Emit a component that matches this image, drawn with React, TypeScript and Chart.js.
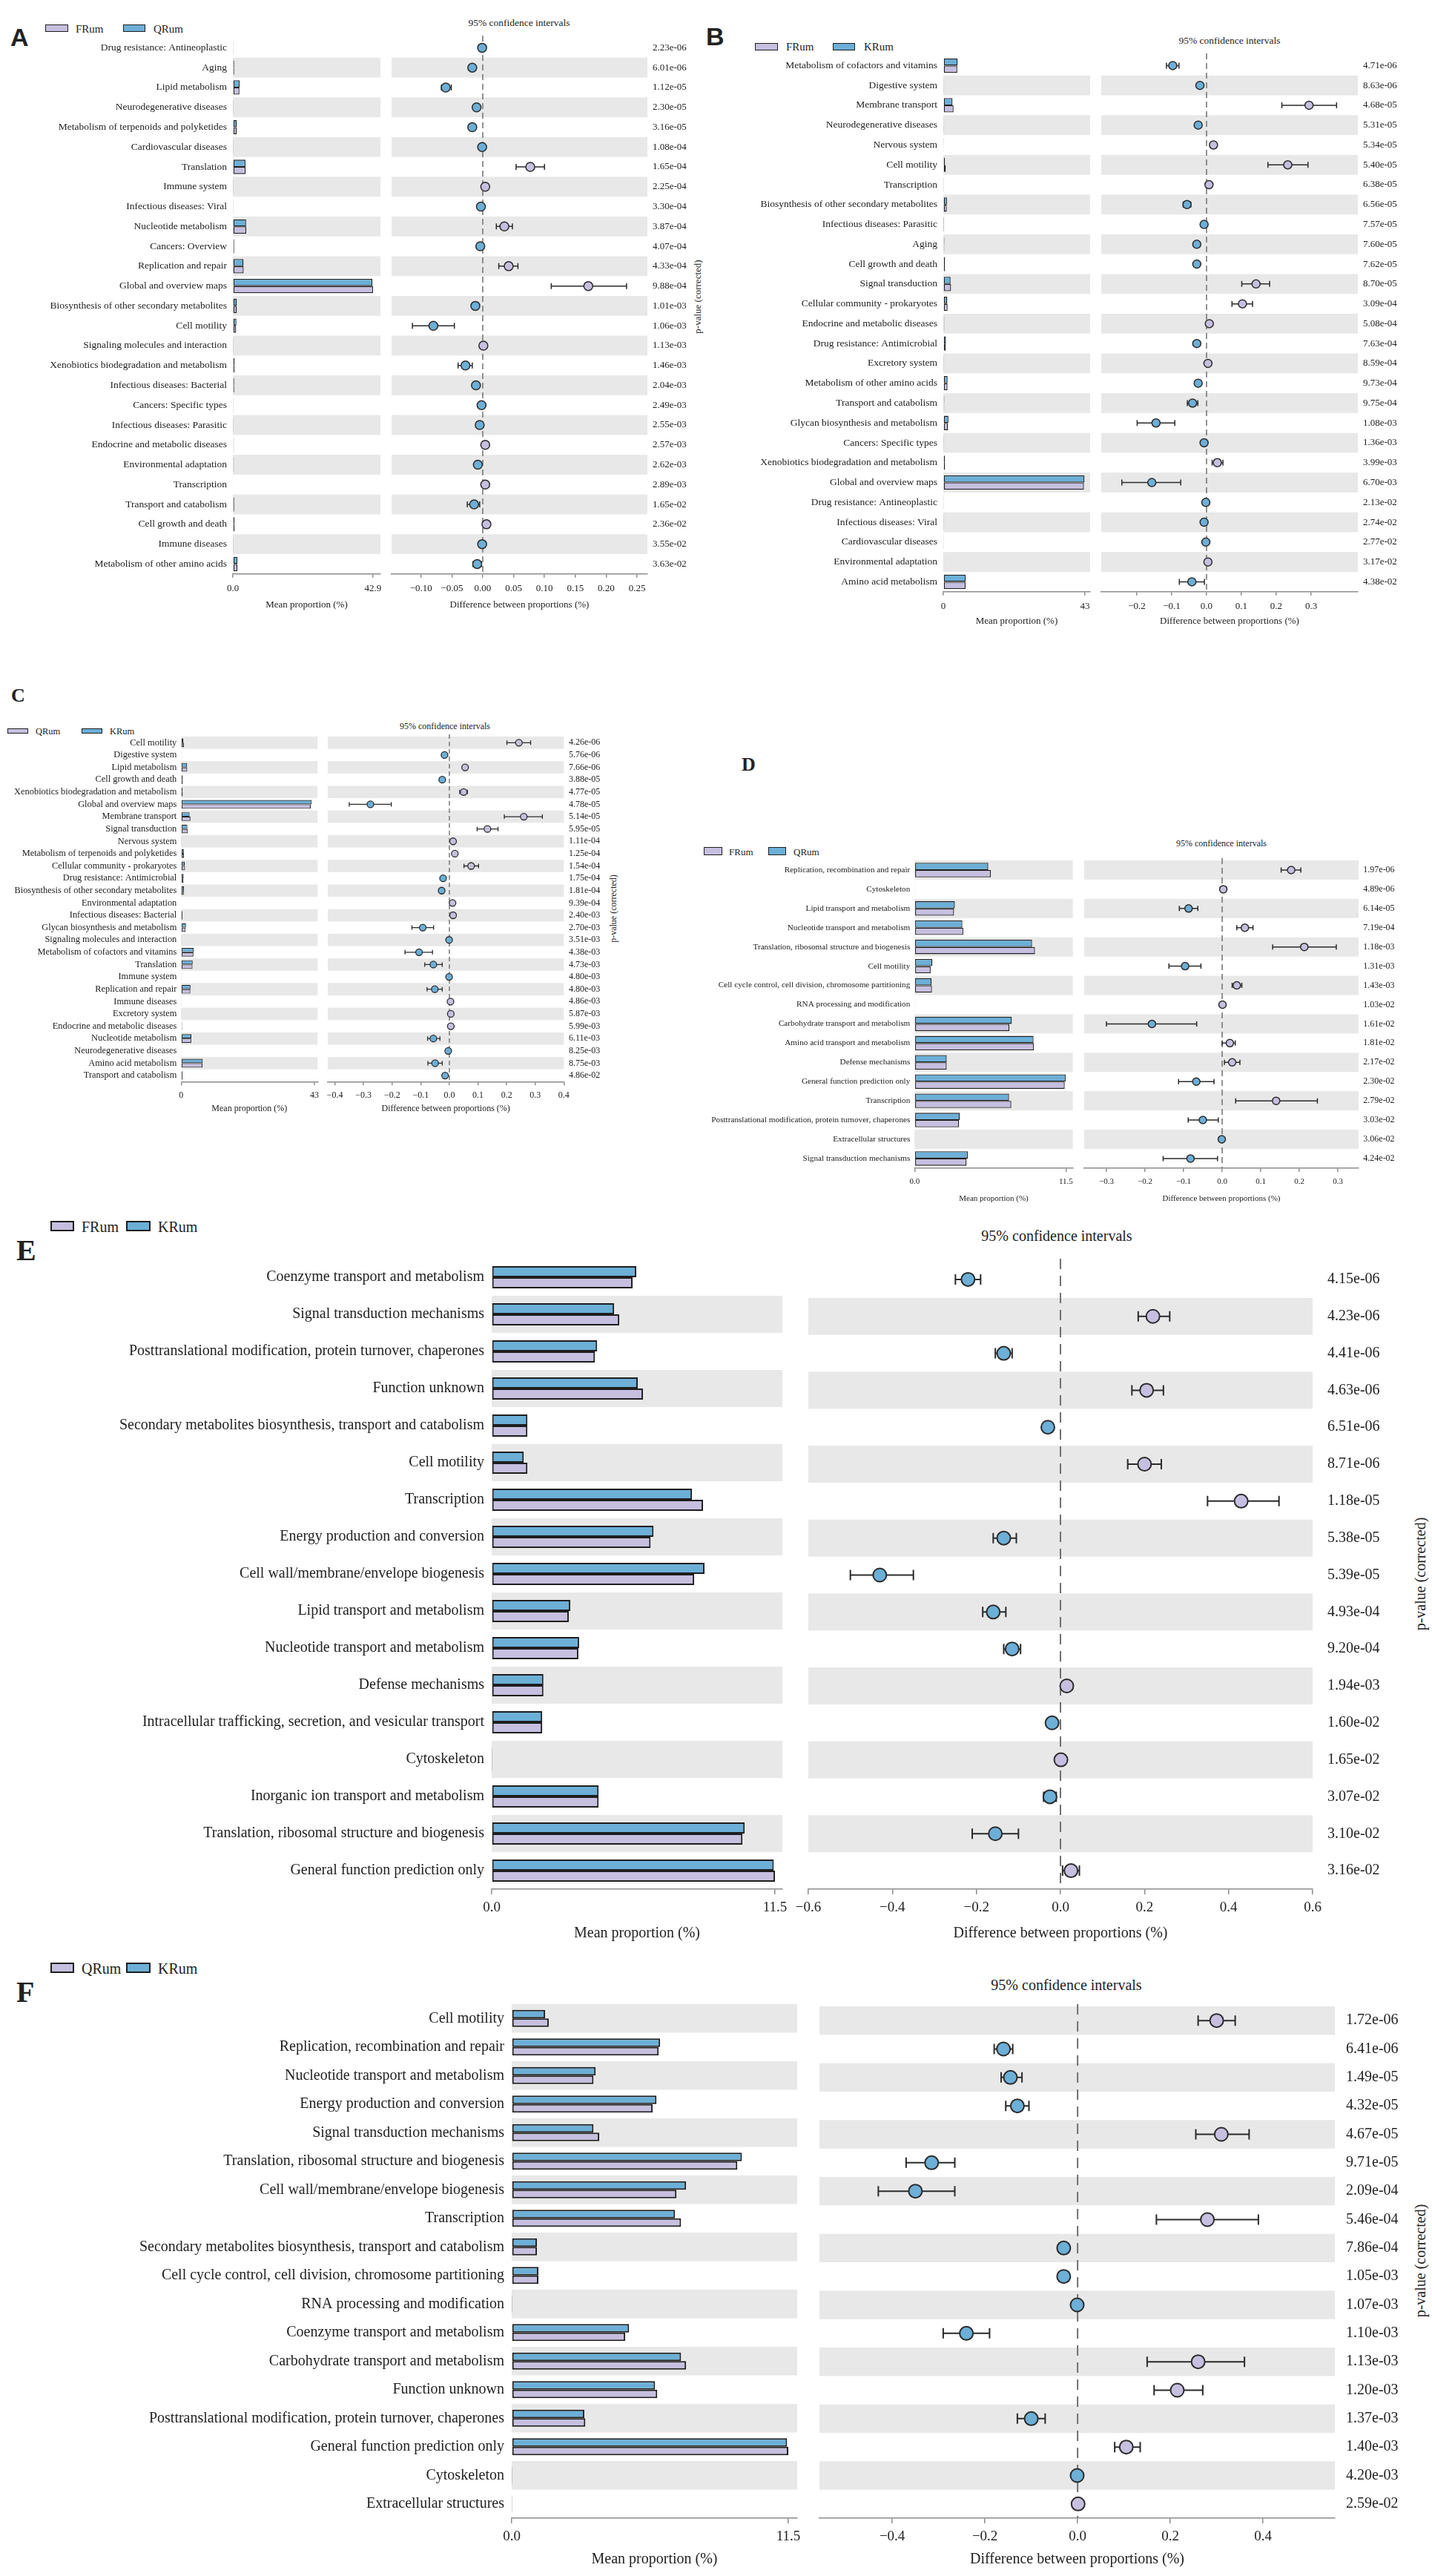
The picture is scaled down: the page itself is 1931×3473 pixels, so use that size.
import React, { useEffect, useRef } from 'react';
import { Chart, registerables } from 'chart.js';
Chart.register(...registerables);

const PURPLE = '#c7bfe0';
const BLUE = '#6cafd7';
const EDGE = '#1e1e1e';
const STRIPE = '#e8e8e8';
const AXIS = '#8c8c8c';
const TEXT = '#222222';
const DASH = '#707070';
const SERIF = '"Liberation Serif", "Times New Roman", serif';
const SANS = '"Liberation Sans", Arial, sans-serif';

// ---------------- Panel A (FRum vs QRum, KEGG) ----------------
const A_categories = ['Drug resistance: Antineoplastic', 'Aging', 'Lipid metabolism', 'Neurodegenerative diseases', 'Metabolism of terpenoids and polyketides', 'Cardiovascular diseases', 'Translation', 'Immune system', 'Infectious diseases: Viral', 'Nucleotide metabolism', 'Cancers: Overview', 'Replication and repair', 'Global and overview maps', 'Biosynthesis of other secondary metabolites', 'Cell motility', 'Signaling molecules and interaction', 'Xenobiotics biodegradation and metabolism', 'Infectious diseases: Bacterial', 'Cancers: Specific types', 'Infectious diseases: Parasitic', 'Endocrine and metabolic diseases', 'Environmental adaptation', 'Transcription', 'Transport and catabolism', 'Cell growth and death', 'Immune diseases', 'Metabolism of other amino acids'];
const A_FRum = [0.1, 0.4, 2.0, 0.1, 1.2, 0.1, 3.9, 0.1, 0.1, 4.1, 0.4, 3.3, 42.9, 1.2, 1.0, 0.1, 0.5, 0.4, 0.1, 0.1, 0.3, 0.3, 0.2, 0.4, 0.5, 0.1, 1.4];
const A_QRum = [0.1, 0.4, 2.05, 0.1, 1.2, 0.1, 3.85, 0.1, 0.1, 4.05, 0.4, 3.25, 42.73, 1.2, 1.08, 0.1, 0.52, 0.4, 0.1, 0.1, 0.3, 0.3, 0.2, 0.4, 0.5, 0.1, 1.4];
const A_diff = [-0.001, -0.017, -0.060, -0.010, -0.017, -0.001, 0.077, 0.004, -0.003, 0.035, -0.004, 0.042, 0.171, -0.012, -0.080, 0.001, -0.028, -0.011, -0.002, -0.005, 0.004, -0.008, 0.004, -0.014, 0.006, -0.001, -0.009];
const A_ciLow = [-0.003, -0.019, -0.067, -0.012, -0.019, -0.003, 0.054, 0.002, -0.005, 0.022, -0.006, 0.026, 0.111, -0.014, -0.114, -0.001, -0.040, -0.013, -0.004, -0.007, 0.002, -0.010, 0.002, -0.025, 0.004, -0.003, -0.016];
const A_ciHigh = [0.001, -0.015, -0.051, -0.008, -0.015, 0.001, 0.100, 0.006, -0.001, 0.048, -0.002, 0.057, 0.233, -0.010, -0.046, 0.003, -0.017, -0.009, 0.000, -0.003, 0.006, -0.006, 0.006, -0.005, 0.008, 0.001, -0.002];
const A_pvalues = ['2.23e-06', '6.01e-06', '1.12e-05', '2.30e-05', '3.16e-05', '1.08e-04', '1.65e-04', '2.25e-04', '3.30e-04', '3.87e-04', '4.07e-04', '4.33e-04', '9.88e-04', '1.01e-03', '1.06e-03', '1.13e-03', '1.46e-03', '2.04e-03', '2.49e-03', '2.55e-03', '2.57e-03', '2.62e-03', '2.89e-03', '1.65e-02', '2.36e-02', '3.55e-02', '3.63e-02'];
const A_barTicks = [0, 42.9];
const A_barTickLabels = ['0.0', '42.9'];
const A_diffTicks = [-0.10, -0.05, 0, 0.05, 0.10, 0.15, 0.20, 0.25];
const A_diffTickLabels = ['\u22120.10', '\u22120.05', '0.00', '0.05', '0.10', '0.15', '0.20', '0.25'];

// ---------------- Panel B (FRum vs KRum, KEGG) ----------------
const B_categories = ['Metabolism of cofactors and vitamins', 'Digestive system', 'Membrane transport', 'Neurodegenerative diseases', 'Nervous system', 'Cell motility', 'Transcription', 'Biosynthesis of other secondary metabolites', 'Infectious diseases: Parasitic', 'Aging', 'Cell growth and death', 'Signal transduction', 'Cellular community - prokaryotes', 'Endocrine and metabolic diseases', 'Drug resistance: Antimicrobial', 'Excretory system', 'Metabolism of other amino acids', 'Transport and catabolism', 'Glycan biosynthesis and metabolism', 'Cancers: Specific types', 'Xenobiotics biodegradation and metabolism', 'Global and overview maps', 'Drug resistance: Antineoplastic', 'Infectious diseases: Viral', 'Cardiovascular diseases', 'Environmental adaptation', 'Amino acid metabolism'];
const B_FRum = [4.25, 0.1, 3.1, 0.1, 0.12, 0.75, 0.1, 1.05, 0.05, 0.3, 0.5, 2.35, 1.3, 0.3, 0.78, 0.1, 1.28, 0.28, 1.4, 0.1, 0.52, 42.7, 0.1, 0.1, 0.1, 0.2, 6.75];
const B_KRum = [4.35, 0.12, 2.8, 0.12, 0.1, 0.5, 0.1, 1.1, 0.05, 0.33, 0.53, 2.2, 1.2, 0.3, 0.81, 0.1, 1.3, 0.32, 1.55, 0.1, 0.5, 42.87, 0.1, 0.1, 0.1, 0.2, 6.8];
const B_diff = [-0.097, -0.019, 0.294, -0.024, 0.020, 0.233, 0.007, -0.056, -0.007, -0.028, -0.028, 0.142, 0.103, 0.008, -0.028, 0.004, -0.024, -0.040, -0.145, -0.007, 0.031, -0.157, -0.002, -0.007, -0.002, 0.004, -0.042];
const B_ciLow = [-0.115, -0.022, 0.216, -0.027, 0.017, 0.176, 0.004, -0.067, -0.010, -0.031, -0.031, 0.101, 0.073, 0.005, -0.031, 0.001, -0.027, -0.055, -0.199, -0.010, 0.016, -0.243, -0.005, -0.010, -0.005, 0.001, -0.078];
const B_ciHigh = [-0.079, -0.016, 0.373, -0.021, 0.023, 0.291, 0.010, -0.045, -0.004, -0.025, -0.025, 0.181, 0.132, 0.011, -0.025, 0.007, -0.021, -0.025, -0.091, -0.004, 0.047, -0.074, 0.001, -0.004, 0.001, 0.007, -0.006];
const B_pvalues = ['4.71e-06', '8.63e-06', '4.68e-05', '5.31e-05', '5.34e-05', '5.40e-05', '6.38e-05', '6.56e-05', '7.57e-05', '7.60e-05', '7.62e-05', '8.70e-05', '3.09e-04', '5.08e-04', '7.63e-04', '8.59e-04', '9.73e-04', '9.75e-04', '1.08e-03', '1.36e-03', '3.99e-03', '6.70e-03', '2.13e-02', '2.74e-02', '2.77e-02', '3.17e-02', '4.38e-02'];
const B_barTicks = [0, 43];
const B_barTickLabels = ['0', '43'];
const B_diffTicks = [-0.2, -0.1, 0, 0.1, 0.2, 0.3];
const B_diffTickLabels = ['\u22120.2', '\u22120.1', '0.0', '0.1', '0.2', '0.3'];

// ---------------- Panel C (QRum vs KRum, KEGG) ----------------
const C_categories = ['Cell motility', 'Digestive system', 'Lipid metabolism', 'Cell growth and death', 'Xenobiotics biodegradation and metabolism', 'Global and overview maps', 'Membrane transport', 'Signal transduction', 'Nervous system', 'Metabolism of terpenoids and polyketides', 'Cellular community - prokaryotes', 'Drug resistance: Antimicrobial', 'Biosynthesis of other secondary metabolites', 'Environmental adaptation', 'Infectious diseases: Bacterial', 'Glycan biosynthesis and metabolism', 'Signaling molecules and interaction', 'Metabolism of cofactors and vitamins', 'Translation', 'Immune system', 'Replication and repair', 'Immune diseases', 'Excretory system', 'Endocrine and metabolic diseases', 'Nucleotide metabolism', 'Neurodegenerative diseases', 'Amino acid metabolism', 'Transport and catabolism'];
const C_QRum = [0.9, 0.1, 1.95, 0.5, 0.5, 41.8, 3.0, 2.15, 0.1, 0.9, 1.25, 0.75, 0.85, 0.2, 0.4, 1.45, 0.1, 3.95, 3.65, 0.1, 2.95, 0.1, 0.1, 0.3, 3.25, 0.1, 6.9, 0.4];
const C_KRum = [0.7, 0.1, 1.9, 0.5, 0.45, 42.1, 2.7, 2.0, 0.1, 0.85, 1.15, 0.8, 0.9, 0.2, 0.4, 1.55, 0.1, 4.05, 3.7, 0.1, 3.0, 0.1, 0.1, 0.3, 3.3, 0.1, 6.95, 0.4];
const C_diff = [0.243, -0.017, 0.055, -0.025, 0.050, -0.276, 0.260, 0.133, 0.013, 0.019, 0.076, -0.022, -0.027, 0.011, 0.013, -0.093, -0.001, -0.106, -0.056, -0.001, -0.051, 0.004, 0.005, 0.005, -0.056, -0.004, -0.050, -0.015];
const C_ciLow = [0.201, -0.020, 0.047, -0.028, 0.036, -0.350, 0.192, 0.097, 0.010, 0.016, 0.051, -0.025, -0.030, 0.008, 0.010, -0.131, -0.004, -0.155, -0.086, -0.004, -0.078, 0.001, 0.002, 0.002, -0.076, -0.007, -0.075, -0.018];
const C_ciHigh = [0.284, -0.014, 0.063, -0.022, 0.063, -0.203, 0.325, 0.170, 0.016, 0.022, 0.102, -0.019, -0.024, 0.014, 0.016, -0.055, 0.002, -0.059, -0.025, 0.002, -0.025, 0.007, 0.008, 0.008, -0.033, -0.001, -0.025, -0.012];
const C_pvalues = ['4.26e-06', '5.76e-06', '7.66e-06', '3.88e-05', '4.77e-05', '4.78e-05', '5.14e-05', '5.95e-05', '1.11e-04', '1.25e-04', '1.54e-04', '1.75e-04', '1.81e-04', '9.39e-04', '2.40e-03', '2.70e-03', '3.51e-03', '4.38e-03', '4.73e-03', '4.80e-03', '4.80e-03', '4.86e-03', '5.87e-03', '5.99e-03', '6.11e-03', '8.25e-03', '8.75e-03', '4.86e-02'];
const C_barTicks = [0, 43];
const C_barTickLabels = ['0', '43'];
const C_diffTicks = [-0.4, -0.3, -0.2, -0.1, 0, 0.1, 0.2, 0.3, 0.4];
const C_diffTickLabels = ['\u22120.4', '\u22120.3', '\u22120.2', '\u22120.1', '0.0', '0.1', '0.2', '0.3', '0.4'];

// ---------------- Panel D (FRum vs QRum, COG) ----------------
const D_categories = ['Replication, recombination and repair', 'Cytoskeleton', 'Lipid transport and metabolism', 'Nucleotide transport and metabolism', 'Translation, ribosomal structure and biogenesis', 'Cell motility', 'Cell cycle control, cell division, chromosome partitioning', 'RNA processing and modification', 'Carbohydrate transport and metabolism', 'Amino acid transport and metabolism', 'Defense mechanisms', 'General function prediction only', 'Transcription', 'Posttranslational modification, protein turnover, chaperones', 'Extracellular structures', 'Signal transduction mechanisms'];
const D_FRum = [5.8, 0.03, 3.0, 3.7, 9.15, 1.22, 1.32, 0.03, 7.2, 9.08, 2.44, 11.41, 7.35, 3.38, 0.03, 3.95];
const D_QRum = [5.6, 0.03, 3.06, 3.63, 8.93, 1.35, 1.28, 0.03, 7.39, 9.04, 2.44, 11.48, 7.18, 3.44, 0.03, 4.04];
const D_diff = [0.179, 0.003, -0.087, 0.059, 0.213, -0.096, 0.038, 0.001, -0.182, 0.020, 0.026, -0.067, 0.140, -0.050, -0.001, -0.082];
const D_ciLow = [0.153, 0.001, -0.111, 0.038, 0.131, -0.138, 0.026, -0.001, -0.300, 0.000, 0.006, -0.113, 0.035, -0.088, -0.003, -0.153];
const D_ciHigh = [0.204, 0.005, -0.063, 0.080, 0.296, -0.055, 0.051, 0.003, -0.066, 0.034, 0.046, -0.021, 0.247, -0.010, 0.001, -0.012];
const D_pvalues = ['1.97e-06', '4.89e-06', '6.14e-05', '7.19e-04', '1.18e-03', '1.31e-03', '1.43e-03', '1.03e-02', '1.61e-02', '1.81e-02', '2.17e-02', '2.30e-02', '2.79e-02', '3.03e-02', '3.06e-02', '4.24e-02'];
const D_barTicks = [0, 11.5];
const D_barTickLabels = ['0.0', '11.5'];
const D_diffTicks = [-0.3, -0.2, -0.1, 0, 0.1, 0.2, 0.3];
const D_diffTickLabels = ['\u22120.3', '\u22120.2', '\u22120.1', '0.0', '0.1', '0.2', '0.3'];

// ---------------- Panel E (FRum vs KRum, COG) ----------------
const E_categories = ['Coenzyme transport and metabolism', 'Signal transduction mechanisms', 'Posttranslational modification, protein turnover, chaperones', 'Function unknown', 'Secondary metabolites biosynthesis, transport and catabolism', 'Cell motility', 'Transcription', 'Energy production and conversion', 'Cell wall/membrane/envelope biogenesis', 'Lipid transport and metabolism', 'Nucleotide transport and metabolism', 'Defense mechanisms', 'Intracellular trafficking, secretion, and vesicular transport', 'Cytoskeleton', 'Inorganic ion transport and metabolism', 'Translation, ribosomal structure and biogenesis', 'General function prediction only'];
const E_FRum = [5.72, 5.18, 4.19, 6.14, 1.45, 1.45, 8.58, 6.45, 8.22, 3.13, 3.52, 2.1, 2.05, 0.01, 4.34, 10.18, 11.5];
const E_KRum = [5.87, 4.97, 4.28, 5.93, 1.45, 1.3, 8.13, 6.57, 8.64, 3.19, 3.55, 2.1, 2.05, 0.01, 4.34, 10.27, 11.45];
const E_diff = [-0.22, 0.22, -0.135, 0.205, -0.03, 0.20, 0.43, -0.135, -0.43, -0.16, -0.115, 0.015, -0.02, 0.001, -0.025, -0.155, 0.025];
const E_ciLow = [-0.25, 0.185, -0.155, 0.17, -0.035, 0.16, 0.35, -0.16, -0.50, -0.185, -0.135, 0.005, -0.03, -0.001, -0.04, -0.21, 0.005];
const E_ciHigh = [-0.19, 0.26, -0.115, 0.245, -0.025, 0.24, 0.52, -0.105, -0.35, -0.13, -0.095, 0.025, -0.01, 0.003, -0.01, -0.10, 0.045];
const E_pvalues = ['4.15e-06', '4.23e-06', '4.41e-06', '4.63e-06', '6.51e-06', '8.71e-06', '1.18e-05', '5.38e-05', '5.39e-05', '4.93e-04', '9.20e-04', '1.94e-03', '1.60e-02', '1.65e-02', '3.07e-02', '3.10e-02', '3.16e-02'];
const E_barTicks = [0, 11.5];
const E_barTickLabels = ['0.0', '11.5'];
const E_diffTicks = [-0.6, -0.4, -0.2, 0, 0.2, 0.4, 0.6];
const E_diffTickLabels = ['\u22120.6', '\u22120.4', '\u22120.2', '0.0', '0.2', '0.4', '0.6'];

// ---------------- Panel F (QRum vs KRum, COG) ----------------
const F_categories = ['Cell motility', 'Replication, recombination and repair', 'Nucleotide transport and metabolism', 'Energy production and conversion', 'Signal transduction mechanisms', 'Translation, ribosomal structure and biogenesis', 'Cell wall/membrane/envelope biogenesis', 'Transcription', 'Secondary metabolites biosynthesis, transport and catabolism', 'Cell cycle control, cell division, chromosome partitioning', 'RNA processing and modification', 'Coenzyme transport and metabolism', 'Carbohydrate transport and metabolism', 'Function unknown', 'Posttranslational modification, protein turnover, chaperones', 'General function prediction only', 'Cytoskeleton', 'Extracellular structures'];
const F_QRum = [1.54, 6.11, 3.40, 5.86, 3.64, 9.38, 6.85, 7.04, 1.05, 1.11, 0.01, 4.72, 7.25, 6.05, 3.06, 11.5, 0.01, 0.01];
const F_KRum = [1.39, 6.17, 3.49, 6.02, 3.40, 9.57, 7.25, 6.79, 1.05, 1.11, 0.01, 4.88, 7.04, 5.96, 3.02, 11.45, 0.01, 0.01];
const F_diff = [0.30, -0.16, -0.145, -0.13, 0.31, -0.315, -0.35, 0.28, -0.03, -0.03, -0.001, -0.24, 0.26, 0.215, -0.10, 0.105, -0.001, 0.001];
const F_ciLow = [0.26, -0.18, -0.165, -0.155, 0.255, -0.37, -0.43, 0.17, -0.04, -0.04, -0.003, -0.29, 0.15, 0.165, -0.13, 0.08, -0.003, -0.001];
const F_ciHigh = [0.34, -0.14, -0.12, -0.105, 0.37, -0.265, -0.265, 0.39, -0.02, -0.02, 0.001, -0.19, 0.36, 0.27, -0.07, 0.135, 0.001, 0.003];
const F_pvalues = ['1.72e-06', '6.41e-06', '1.49e-05', '4.32e-05', '4.67e-05', '9.71e-05', '2.09e-04', '5.46e-04', '7.86e-04', '1.05e-03', '1.07e-03', '1.10e-03', '1.13e-03', '1.20e-03', '1.37e-03', '1.40e-03', '4.20e-03', '2.59e-02'];
const F_barTicks = [0, 11.5];
const F_barTickLabels = ['0.0', '11.5'];
const F_diffTicks = [-0.4, -0.2, 0, 0.2, 0.4];
const F_diffTickLabels = ['\u22120.4', '\u22120.2', '0.0', '0.2', '0.4'];

// ---------------- layout (positions / sizes / styles) ----------------
type Geo = {
  top: number; rowH: number; labelLeft: number; barL: number; barR: number; barMax: number;
  dotL: number; dotR: number; dotMin: number; dotMax: number; pvalPad: number; pvalW: number;
  catFont: number; tickFont: number; titleFont: number; pvalFont: number;
  xH: number; tickLen: number; tickPad: number; catPct: number; barBorder: number;
  r: number; cap: number; ebWidth: number; dash: number[]; dashWidth: number; parity: number; catPad: number;
};
type Spec = {
  letter: { t: string; x: number; base: number; size: number; sans: boolean };
  legend: { y: number; h: number; size: number; base: number; items: { x: number; w: number; tx: number; label: string; color: string }[] };
  ci: { cx: number; base: number; size: number };
  pv?: { cx: number; cy: number; size: number };
  g1: string; g2: string;
  cats: string[]; v1: number[]; v2: number[]; diff: number[]; lo: number[]; hi: number[]; pvals: string[];
  barTicks: number[]; barTickLabels: string[]; diffTicks: number[]; diffTickLabels: string[];
  geo: Geo;
};

const baseGeo = { tickLen: 5, barBorder: 1.3, ebWidth: 1.5, dashWidth: 1.5, catPad: 8 };

const SPECS: Spec[] = [
  {
    letter: { t: 'A', x: 14, base: 62, size: 34, sans: true },
    legend: { y: 33.3, h: 10, size: 15, base: 44.5, items: [{ x: 61, w: 31, tx: 102, label: 'FRum', color: PURPLE }, { x: 166, w: 30, tx: 207, label: 'QRum', color: BLUE }] },
    ci: { cx: 700, base: 35, size: 13.5 }, pv: { cx: 940, cy: 400, size: 13 },
    g1: 'FRum', g2: 'QRum', cats: A_categories, v1: A_FRum, v2: A_QRum, diff: A_diff, lo: A_ciLow, hi: A_ciHigh, pvals: A_pvalues,
    barTicks: A_barTicks, barTickLabels: A_barTickLabels, diffTicks: A_diffTicks, diffTickLabels: A_diffTickLabels,
    geo: { ...baseGeo, top: 50.6, rowH: 26.77, labelLeft: 30, barL: 314, barR: 513, barMax: 45.17, dotL: 528, dotR: 873, dotMin: -0.1478, dotMax: 0.2668, pvalPad: 7, pvalW: 62,
      catFont: 13.5, tickFont: 13, titleFont: 13, pvalFont: 13, xH: 50, tickPad: 7, catPct: 0.72, r: 6, cap: 8, dash: [8, 5], parity: 1 },
  },
  {
    letter: { t: 'B', x: 952, base: 61, size: 34, sans: true },
    legend: { y: 57.7, h: 10.6, size: 15, base: 69, items: [{ x: 1018, w: 31, tx: 1060, label: 'FRum', color: PURPLE }, { x: 1123, w: 30, tx: 1165, label: 'KRum', color: BLUE }] },
    ci: { cx: 1658, base: 59, size: 13.5 },
    g1: 'FRum', g2: 'KRum', cats: B_categories, v1: B_FRum, v2: B_KRum, diff: B_diff, lo: B_ciLow, hi: B_ciHigh, pvals: B_pvalues,
    barTicks: B_barTicks, barTickLabels: B_barTickLabels, diffTicks: B_diffTicks, diffTickLabels: B_diffTickLabels,
    geo: { ...baseGeo, top: 74.9, rowH: 26.77, labelLeft: 990, barL: 1272, barR: 1470, barMax: 44.58, dotL: 1485, dotR: 1831, dotMin: -0.302, dotMax: 0.434, pvalPad: 7, pvalW: 62,
      catFont: 13.5, tickFont: 13, titleFont: 13, pvalFont: 13, xH: 48, tickPad: 7, catPct: 0.72, r: 5.5, cap: 8, dash: [8, 5], parity: 1 },
  },
  {
    letter: { t: 'C', x: 15, base: 947, size: 26, sans: false },
    legend: { y: 981.7, h: 7.5, size: 12.5, base: 990, items: [{ x: 10, w: 28, tx: 48, label: 'QRum', color: PURPLE }, { x: 110, w: 28, tx: 148, label: 'KRum', color: BLUE }] },
    ci: { cx: 600, base: 983, size: 12 }, pv: { cx: 827, cy: 1225, size: 12 },
    g1: 'QRum', g2: 'KRum', cats: C_categories, v1: C_QRum, v2: C_KRum, diff: C_diff, lo: C_ciLow, hi: C_ciHigh, pvals: C_pvalues,
    barTicks: C_barTicks, barTickLabels: C_barTickLabels, diffTicks: C_diffTicks, diffTickLabels: C_diffTickLabels,
    geo: { ...baseGeo, top: 992.7, rowH: 16.62, labelLeft: 0, barL: 244.3, barR: 428.3, barMax: 44.0, dotL: 441.7, dotR: 760, dotMin: -0.425, dotMax: 0.4, pvalPad: 6.7, pvalW: 56,
      catFont: 12.4, tickFont: 12, titleFont: 12, pvalFont: 12, xH: 44, tickPad: 6, catPct: 0.7, r: 4.5, cap: 6, dash: [6, 4], parity: 0, barBorder: 1.1, ebWidth: 1.3, dashWidth: 1.4, catPad: 6 },
  },
  {
    letter: { t: 'D', x: 1000, base: 1040, size: 26, sans: false },
    legend: { y: 1142, h: 11, size: 13, base: 1153, items: [{ x: 949, w: 25, tx: 983, label: 'FRum', color: PURPLE }, { x: 1036, w: 24, tx: 1070, label: 'QRum', color: BLUE }] },
    ci: { cx: 1647, base: 1141, size: 12 },
    g1: 'FRum', g2: 'QRum', cats: D_categories, v1: D_FRum, v2: D_QRum, diff: D_diff, lo: D_ciLow, hi: D_ciHigh, pvals: D_pvalues,
    barTicks: D_barTicks, barTickLabels: D_barTickLabels, diffTicks: D_diffTicks, diffTickLabels: D_diffTickLabels,
    geo: { ...baseGeo, top: 1160.4, rowH: 25.93, labelLeft: 935, barL: 1233.3, barR: 1446.7, barMax: 12.03, dotL: 1461.7, dotR: 1831.7, dotMin: -0.3577, dotMax: 0.3538, pvalPad: 6.3, pvalW: 60,
      catFont: 11.2, tickFont: 11, titleFont: 11, pvalFont: 12, xH: 48, tickPad: 7, catPct: 0.75, r: 5, cap: 7, dash: [8, 5], parity: 0, catPad: 6 },
  },
  {
    letter: { t: 'E', x: 22, base: 1700, size: 40, sans: false },
    legend: { y: 1646, h: 14, size: 20, base: 1661, items: [{ x: 68, w: 32, tx: 110, label: 'FRum', color: PURPLE }, { x: 170, w: 33, tx: 213, label: 'KRum', color: BLUE }] },
    ci: { cx: 1425, base: 1673, size: 20 }, pv: { cx: 1915, cy: 2122, size: 20 },
    g1: 'FRum', g2: 'KRum', cats: E_categories, v1: E_FRum, v2: E_KRum, diff: E_diff, lo: E_ciLow, hi: E_ciHigh, pvals: E_pvalues,
    barTicks: E_barTicks, barTickLabels: E_barTickLabels, diffTicks: E_diffTicks, diffTickLabels: E_diffTickLabels,
    geo: { ...baseGeo, top: 1697, rowH: 50, labelLeft: 40, barL: 663, barR: 1055, barMax: 11.8, dotL: 1090, dotR: 1770, dotMin: -0.6, dotMax: 0.6, pvalPad: 20, pvalW: 110,
      catFont: 20, tickFont: 19, titleFont: 20, pvalFont: 20, xH: 72, tickPad: 7, catPct: 0.6, r: 9, cap: 14, dash: [14, 9], parity: 1, barBorder: 2, ebWidth: 2, dashWidth: 2, catPad: 10, tickLen: 7 },
  },
  {
    letter: { t: 'F', x: 22, base: 2700, size: 40, sans: false },
    legend: { y: 2646, h: 14, size: 20, base: 2661, items: [{ x: 68, w: 32, tx: 110, label: 'QRum', color: PURPLE }, { x: 170, w: 33, tx: 213, label: 'KRum', color: BLUE }] },
    ci: { cx: 1438, base: 2683, size: 20 }, pv: { cx: 1915, cy: 3048, size: 20 },
    g1: 'QRum', g2: 'KRum', cats: F_categories, v1: F_QRum, v2: F_KRum, diff: F_diff, lo: F_ciLow, hi: F_ciHigh, pvals: F_pvalues,
    barTicks: F_barTicks, barTickLabels: F_barTickLabels, diffTicks: F_diffTicks, diffTickLabels: F_diffTickLabels,
    geo: { ...baseGeo, top: 2701.8, rowH: 38.5, labelLeft: 40, barL: 690, barR: 1075, barMax: 11.87, dotL: 1105, dotR: 1800, dotMin: -0.557, dotMax: 0.555, pvalPad: 15, pvalW: 110,
      catFont: 20, tickFont: 19, titleFont: 20, pvalFont: 20, xH: 68, tickPad: 7, catPct: 0.6, r: 9, cap: 14, dash: [14, 9], parity: 0, barBorder: 2, ebWidth: 2, dashWidth: 2, catPad: 10, tickLen: 7 },
  },
];

const font = (size: number) => ({ family: SERIF, size, weight: 'normal' as const });

function stripesPlugin(parity: number) {
  return {
    id: 'stripes',
    beforeDraw(chart: any) {
      const { ctx, chartArea: a, scales } = chart;
      const y = scales.y;
      const n = y.getLabels().length;
      const h = (a.bottom - a.top) / n;
      ctx.save();
      ctx.fillStyle = STRIPE;
      for (let i = 0; i < n; i++) {
        if (i % 2 !== parity) continue;
        const c = y.getPixelForValue(i);
        ctx.fillRect(a.left, c - h / 2, a.right - a.left, h);
      }
      ctx.restore();
    },
  };
}

function decoPlugin(lo: number[], hi: number[], g: Geo) {
  return {
    id: 'deco',
    beforeDatasetsDraw(chart: any) {
      const { ctx, chartArea: a, scales } = chart;
      const x = scales.x, y = scales.y;
      const x0 = x.getPixelForValue(0);
      ctx.save();
      ctx.strokeStyle = DASH;
      ctx.lineWidth = g.dashWidth;
      ctx.setLineDash(g.dash);
      ctx.beginPath();
      ctx.moveTo(x0, a.top - 3);
      ctx.lineTo(x0, a.bottom);
      ctx.stroke();
      ctx.setLineDash([]);
      ctx.strokeStyle = '#2a2a2a';
      ctx.lineWidth = g.ebWidth;
      for (let i = 0; i < lo.length; i++) {
        const yc = y.getPixelForValue(i);
        const x1 = x.getPixelForValue(lo[i]);
        const x2 = x.getPixelForValue(hi[i]);
        ctx.beginPath();
        ctx.moveTo(x1, yc); ctx.lineTo(x2, yc);
        ctx.moveTo(x1, yc - g.cap / 2); ctx.lineTo(x1, yc + g.cap / 2);
        ctx.moveTo(x2, yc - g.cap / 2); ctx.lineTo(x2, yc + g.cap / 2);
        ctx.stroke();
      }
      ctx.restore();
    },
  };
}

function BarPart({ s }: { s: Spec }) {
  const ref = useRef<HTMLCanvasElement>(null);
  const g = s.geo;
  const padT = 4;
  const leftW = g.barL - g.labelLeft;
  const areaW = g.barR - g.barL;
  const areaH = g.rowH * s.cats.length;
  const width = Math.ceil(leftW + areaW + 14);
  const height = Math.ceil(padT + areaH + g.xH + 2);
  const padR = width - leftW - areaW;
  const padB = height - padT - areaH - g.xH;
  useEffect(() => {
    const chart = new Chart(ref.current as HTMLCanvasElement, {
      type: 'bar',
      data: {
        labels: s.cats,
        datasets: [
          { label: s.g2, data: s.v2, backgroundColor: BLUE, borderColor: EDGE, borderWidth: g.barBorder, borderSkipped: false, categoryPercentage: g.catPct, barPercentage: 1 },
          { label: s.g1, data: s.v1, backgroundColor: PURPLE, borderColor: EDGE, borderWidth: g.barBorder, borderSkipped: false, categoryPercentage: g.catPct, barPercentage: 1 },
        ],
      },
      options: {
        indexAxis: 'y', responsive: false, animation: false,
        layout: { padding: { top: padT, right: padR, bottom: padB, left: 0 } },
        plugins: { legend: { display: false }, tooltip: { enabled: false }, title: { display: false } },
        scales: {
          x: {
            type: 'linear', min: 0, max: g.barMax, bounds: 'data',
            afterBuildTicks: (sc: any) => { sc.ticks = s.barTicks.map((v) => ({ value: v })); },
            ticks: { callback: (_v: any, i: number) => s.barTickLabels[i], font: font(g.tickFont), color: TEXT, padding: g.tickPad, maxRotation: 0, autoSkip: false },
            grid: { display: true, drawOnChartArea: false, drawTicks: true, tickLength: g.tickLen, color: AXIS, lineWidth: 1.5 },
            border: { display: true, color: AXIS, width: 1.5 },
            title: { display: true, text: 'Mean proportion (%)', font: font(g.titleFont), color: TEXT, padding: 0 },
            afterFit: (sc: any) => { sc.height = g.xH; sc.paddingLeft = 0; sc.paddingRight = 0; },
          },
          y: {
            type: 'category', offset: true,
            grid: { display: false, drawTicks: false }, border: { display: false },
            ticks: { font: font(g.catFont), color: TEXT, padding: g.catPad, autoSkip: false },
            afterFit: (sc: any) => { sc.width = leftW; sc.paddingTop = 0; sc.paddingBottom = 0; },
          },
        },
      } as any,
      plugins: [stripesPlugin(g.parity)],
    });
    return () => chart.destroy();
  }, []);
  return <canvas ref={ref} width={width} height={height} style={{ position: 'absolute', left: g.labelLeft, top: g.top - padT, width, height }} />;
}

function DotPart({ s }: { s: Spec }) {
  const ref = useRef<HTMLCanvasElement>(null);
  const g = s.geo;
  const padT = 8;
  const padL = 30;
  const areaW = g.dotR - g.dotL;
  const areaH = g.rowH * s.cats.length;
  const width = Math.ceil(padL + areaW + g.pvalW);
  const height = Math.ceil(padT + areaH + g.xH + 2);
  const rightW = width - padL - areaW;
  const padB = height - padT - areaH - g.xH;
  useEffect(() => {
    const chart = new Chart(ref.current as HTMLCanvasElement, {
      type: 'scatter',
      data: {
        datasets: [{
          data: s.cats.map((c, i) => ({ x: s.diff[i], y: c })),
          pointRadius: g.r, pointHoverRadius: g.r,
          pointBackgroundColor: s.diff.map((d) => (d >= 0 ? PURPLE : BLUE)),
          pointBorderColor: '#2a2a2a', pointBorderWidth: g.ebWidth, clip: false,
        }],
      },
      options: {
        responsive: false, animation: false,
        layout: { padding: { top: padT, right: 0, bottom: padB, left: padL } },
        plugins: { legend: { display: false }, tooltip: { enabled: false }, title: { display: false } },
        scales: {
          x: {
            type: 'linear', min: g.dotMin, max: g.dotMax, bounds: 'data',
            afterBuildTicks: (sc: any) => { sc.ticks = s.diffTicks.map((v) => ({ value: v })); },
            ticks: { callback: (_v: any, i: number) => s.diffTickLabels[i], font: font(g.tickFont), color: TEXT, padding: g.tickPad, maxRotation: 0, autoSkip: false },
            grid: { display: true, drawOnChartArea: false, drawTicks: true, tickLength: g.tickLen, color: AXIS, lineWidth: 1.5 },
            border: { display: true, color: AXIS, width: 1.5 },
            title: { display: true, text: 'Difference between proportions (%)', font: font(g.titleFont), color: TEXT, padding: 0 },
            afterFit: (sc: any) => { sc.height = g.xH; sc.paddingLeft = 0; sc.paddingRight = 0; },
          },
          y: {
            type: 'category', labels: s.cats, offset: true, position: 'right',
            grid: { display: false, drawTicks: false }, border: { display: false },
            ticks: { callback: (_v: any, i: number) => s.pvals[i], font: font(g.pvalFont), color: TEXT, padding: g.pvalPad, autoSkip: false },
            afterFit: (sc: any) => { sc.width = rightW; sc.paddingTop = 0; sc.paddingBottom = 0; },
          },
        },
      } as any,
      plugins: [stripesPlugin(g.parity), decoPlugin(s.lo, s.hi, g)],
    });
    return () => chart.destroy();
  }, []);
  return <canvas ref={ref} width={width} height={height} style={{ position: 'absolute', left: g.dotL - padL, top: g.top - padT, width, height }} />;
}

function Txt({ x, base, size, children, center, family, bold }: any) {
  return (
    <div style={{
      position: 'absolute', left: x, top: base - 0.84 * size, fontSize: size, lineHeight: 1,
      whiteSpace: 'nowrap', fontFamily: family || SERIF, fontWeight: bold ? 'bold' : 'normal', color: TEXT,
      transform: center ? 'translateX(-50%)' : undefined,
    }}>{children}</div>
  );
}

function Panel({ s }: { s: Spec }) {
  return (
    <>
      <Txt x={s.letter.x} base={s.letter.base} size={s.letter.size} family={s.letter.sans ? SANS : SERIF} bold>{s.letter.t}</Txt>
      {s.legend.items.map((it, i) => (
        <React.Fragment key={i}>
          <div style={{ position: 'absolute', left: it.x, top: s.legend.y, width: it.w, height: s.legend.h, background: it.color, border: `${s.geo.barBorder + 0.4}px solid ${EDGE}`, boxSizing: 'border-box' }} />
          <Txt x={it.tx} base={s.legend.base} size={s.legend.size}>{it.label}</Txt>
        </React.Fragment>
      ))}
      <Txt x={s.ci.cx} base={s.ci.base} size={s.ci.size} center>95% confidence intervals</Txt>
      {s.pv ? (
        <div style={{ position: 'absolute', left: s.pv.cx, top: s.pv.cy, fontSize: s.pv.size, lineHeight: 1, fontFamily: SERIF, color: TEXT, whiteSpace: 'nowrap', transform: 'translate(-50%, -50%) rotate(-90deg)' }}>p-value (corrected)</div>
      ) : null}
      <BarPart s={s} />
      <DotPart s={s} />
    </>
  );
}

export default function App() {
  return (
    <div style={{ position: 'absolute', left: 0, top: 0, width: 1931, height: 3473, background: '#fff', overflow: 'hidden' }}>
      {SPECS.map((s, i) => <Panel key={i} s={s} />)}
    </div>
  );
}
